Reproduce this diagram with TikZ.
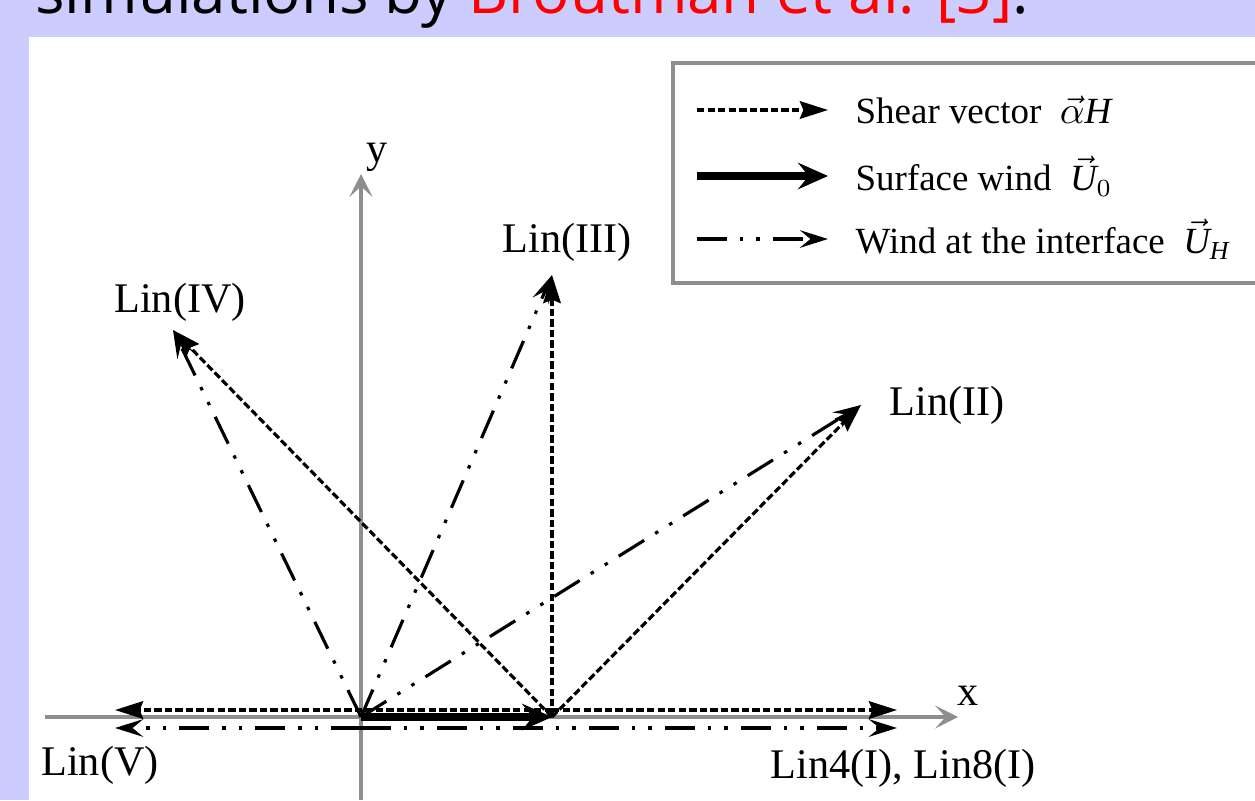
\documentclass[tikz,border=0pt]{standalone}
\usepackage{fontspec}
\setmainfont{Liberation Serif}
\newfontfamily\slidefont{Open Sans}
\usetikzlibrary{arrows.meta, positioning}

\definecolor{slidebg}{HTML}{CCCCFF}
\definecolor{axisgray}{HTML}{8E8E8E}

\begin{document}
\begin{tikzpicture}[x=0.01cm, y=-0.01cm, >=Stealth,
    shear/.style={line width=0.9pt, dash pattern=on 2.1pt off 0.9pt,
                  -{Stealth[length=8pt, width=5pt, inset=1pt]}},
    surface/.style={line width=2pt, -{Stealth[length=8.5pt, width=7.5pt, inset=3pt]}},
    iface/.style={line width=0.9pt,
                  dash pattern=on 8.5pt off 3.7pt on 1pt off 3.7pt on 1pt off 3.7pt,
                  -{Stealth[length=8pt, width=5pt, inset=3pt]}},
    axis/.style={axisgray, line width=0.9pt, -{Stealth[length=6.5pt, width=6.5pt, inset=3pt]}},
    lbl/.style={inner sep=0pt, font=\fontsize{12}{14}\selectfont},
    legtext/.style={inner sep=0pt, anchor=west, font=\fontsize{10.5}{12}\selectfont}]
  \useasboundingbox (0,0) rectangle (1255,800);
  \fill[slidebg] (0,0) rectangle (1255,800);
  \fill[white] (29,37) rectangle (1255,800);
  \node[anchor=base east, inner sep=0pt, font=\slidefont\fontsize{17.6}{20}\selectfont]
    (caption) at (1030,14) {simulations by \textcolor{red}{Broutman et al. [3]}.};

  % axes
  \coordinate (xa) at (45,717);
  \coordinate (xb) at (958,717);
  \coordinate (ya) at (361,800);
  \coordinate (yb) at (361,174);
  \draw[axis] (xa) -- (xb);
  \draw[axis] (ya) -- (yb);
  \node[lbl] (xlab) at (968,696) {x};
  \node[lbl] (ylab) at (377,157) {y};

  \coordinate (O) at (361,717);
  \coordinate (P) at (552,717);
  \coordinate (Ps) at (552,710);
  \coordinate (Ou) at (361,728);

  % tips of the vectors
  \coordinate (t2) at (861,405);
  \coordinate (t3) at (552,275);
  \coordinate (t4) at (173,330);
  \coordinate (t1s) at (897,710);
  \coordinate (t1u) at (897,728);
  \coordinate (t5s) at (115,710);
  \coordinate (t5u) at (115,728);

  \foreach \t in {t2, t3, t4} {
    \draw[shear] (P) -- (\t);
    \draw[iface] (O) -- (\t);
  }
  \draw[shear] (Ps) -- (t1s);
  \draw[shear] (Ps) -- (t5s);
  \draw[iface] (Ou) -- (t1u);
  \draw[iface] (Ou) -- (t5u);
  \draw[surface] (O) -- (P);

  \node[lbl] (lin1) at (903,768) {Lin4(I), Lin8(I)};
  \node[lbl] (lin2) at (947,405) {Lin(II)};
  \node[lbl] (lin3) at (567,242) {Lin(III)};
  \node[lbl] (lin4) at (180,302) {Lin(IV)};
  \node[lbl] (lin5) at (100,765) {Lin(V)};

  % legend
  \draw[axisgray, line width=0.9pt] (673,63) rectangle (1270,283);
  \foreach \y/\sty/\txt in {110/shear/{Shear vector\ \ $\vec{\alpha}\mathit{H}$},
      176/surface/{Surface wind\ \ $\vec{\mathit{U}}_0$},
      239/iface/{Wind at the interface\ \ $\vec{\mathit{U}}_{\mathit{H}}$}} {
    \coordinate (ls\y) at (697,\y);
    \coordinate (le\y) at (828,\y);
    \draw[\sty] (ls\y) -- (le\y);
    \node[legtext] (leg\y) at (855,\y) {\txt};
  }
\end{tikzpicture}
\end{document}
